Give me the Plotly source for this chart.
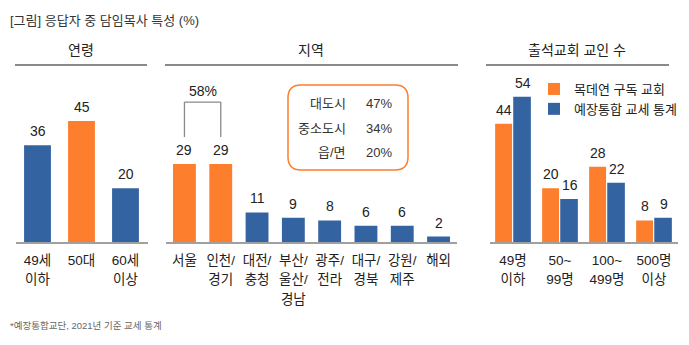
import plotly.graph_objects as go

W, H = 689, 345
ORANGE = "#FD7E2D"
BLUE = "#3463A2"
TXT = "#222222"
FONT = "Liberation Sans, Noto Sans CJK KR, sans-serif"

# ---- data ----
age_cats = ["49세<br>이하", "50대", "60세<br>이상"]
age_vals = [36, 45, 20]
age_hl = [False, True, False]

region_cats = ["서울", "인천/<br>경기", "대전/<br>충청", "부산/<br>울산/<br>경남",
               "광주/<br>전라", "대구/<br>경북", "강원/<br>제주", "해외"]
region_vals = [29, 29, 11, 9, 8, 6, 6, 2]
region_hl = [True, True, False, False, False, False, False, False]
region_combined = 58

city_labels = ["대도시", "중소도시", "읍/면"]
city_vals = [47, 34, 20]

size_cats = ["49명<br>이하", "50~<br>99명", "100~<br>499명", "500명<br>이상"]
size_mok = [44, 20, 28, 8]
size_pck = [54, 16, 22, 9]
series_names = ["목데연 구독 교회", "예장통합 교세 통계"]

title = "[그림] 응답자 중 담임목사 특성 (%)"
headers = ["연령", "지역", "출석교회 교인 수"]
footnote = "*예장통합교단, 2021년 기준 교세 통계"


def px(x):
    return x / W


def py(y):
    return 1 - y / H


def tick_text(cats):
    return ["<br>".join(f'<span style="font-size:13.5px">{ln}</span>' for ln in c.split("<br>"))
            for c in cats]


PXU = 2.69  # pixels per unit
base_y = 242
top_y = 62
ymax = (base_y - top_y) / PXU

fig = go.Figure()

fig.add_trace(go.Bar(x=age_cats, y=age_vals, width=0.61,
                     marker=dict(color=[ORANGE if h else BLUE for h in age_hl], line=dict(width=0)),
                     xaxis="x", yaxis="y", showlegend=False, hoverinfo="skip"))
fig.add_trace(go.Bar(x=region_cats, y=region_vals, width=0.63,
                     marker=dict(color=[ORANGE if h else BLUE for h in region_hl], line=dict(width=0)),
                     xaxis="x2", yaxis="y2", showlegend=False, hoverinfo="skip"))
fig.add_trace(go.Bar(x=size_cats, y=size_mok, width=0.36, offset=-0.38, name=series_names[0],
                     marker=dict(color=ORANGE, line=dict(width=0)),
                     xaxis="x3", yaxis="y3", hoverinfo="skip"))
fig.add_trace(go.Bar(x=size_cats, y=size_pck, width=0.375, offset=0.005, name=series_names[1],
                     marker=dict(color=BLUE, line=dict(width=0)),
                     xaxis="x3", yaxis="y3", hoverinfo="skip"))

annotations = []
vfont = dict(family=FONT, size=14, color=TXT)


def val_ann(xref, yref, x, v, xshift=0):
    annotations.append(dict(x=x, y=v, xref=xref, yref=yref, text=str(v), showarrow=False,
                            yanchor="bottom", yshift=4, xshift=xshift, font=vfont))


for c, v in zip(age_cats, age_vals):
    val_ann("x", "y", c, v)
for c, v in zip(region_cats, region_vals):
    val_ann("x2", "y2", c, v)
for c, v in zip(size_cats, size_mok):
    val_ann("x3", "y3", c, v, xshift=-9.5)
for c, v in zip(size_cats, size_pck):
    val_ann("x3", "y3", c, v, xshift=9.5)

# title / headers / footnote
annotations.append(dict(x=px(8), y=py(20), xref="paper", yref="paper", text=title, showarrow=False,
                        xanchor="left", yanchor="middle", font=dict(family=FONT, size=13, color="#333")))
for hx, htxt in zip([81, 311, 577], headers):
    annotations.append(dict(x=px(hx), y=py(50), xref="paper", yref="paper", text=htxt, showarrow=False,
                            xanchor="center", yanchor="middle", font=dict(family=FONT, size=14, color=TXT)))
annotations.append(dict(x=px(8), y=py(325), xref="paper", yref="paper", text=footnote, showarrow=False,
                        xanchor="left", yanchor="middle", font=dict(family=FONT, size=9.5, color="#666")))

# bracket label
br_low = 39
br_high = 52
annotations.append(dict(x=0.5, y=br_high, xref="x2", yref="y2", text=f"{region_combined}%", showarrow=False,
                        yanchor="bottom", yshift=1, font=vfont))

# city box text
for i, (lab, v) in enumerate(zip(city_labels, city_vals)):
    yy = 104 + i * 24
    annotations.append(dict(x=px(348), y=py(yy), xref="paper", yref="paper", text=lab, showarrow=False,
                            xanchor="right", yanchor="middle", font=dict(family=FONT, size=13, color="#333")))
    annotations.append(dict(x=px(364), y=py(yy), xref="paper", yref="paper", text=f"{v}%", showarrow=False,
                            xanchor="left", yanchor="middle", font=dict(family=FONT, size=13, color="#333")))

shapes = []
# header lines
for x0, x1 in [(15, 147), (165, 458), (486, 669)]:
    shapes.append(dict(type="line", xref="paper", yref="paper", x0=px(x0), x1=px(x1), y0=py(65), y1=py(65),
                       line=dict(color="#8a8a8a", width=2)))
# bracket
bl = dict(color="#8a8a8a", width=1.3)
shapes.append(dict(type="line", xref="x2", yref="y2", x0=0, x1=0, y0=br_low, y1=br_high, line=bl))
shapes.append(dict(type="line", xref="x2", yref="y2", x0=1, x1=1, y0=br_low, y1=br_high, line=bl))
shapes.append(dict(type="line", xref="x2", yref="y2", x0=0, x1=1, y0=br_high, y1=br_high, line=bl))

# rounded box
bx0, bx1, by0, by1, r = 288, 408, 85, 170, 13


def P(x, y):
    return f"{px(x)},{py(y)}"


path = (f"M {P(bx0 + r, by0)} L {P(bx1 - r, by0)} Q {P(bx1, by0)} {P(bx1, by0 + r)} "
        f"L {P(bx1, by1 - r)} Q {P(bx1, by1)} {P(bx1 - r, by1)} "
        f"L {P(bx0 + r, by1)} Q {P(bx0, by1)} {P(bx0, by1 - r)} "
        f"L {P(bx0, by0 + r)} Q {P(bx0, by0)} {P(bx0 + r, by0)} Z")
shapes.append(dict(type="path", xref="paper", yref="paper", path=path,
                   line=dict(color=ORANGE, width=1.5)))

ydom = [py(base_y), py(top_y)]
xcommon = dict(showline=True, linecolor="#a0a0a0", linewidth=1.5, showgrid=False, zeroline=False,
               ticks="", tickfont=dict(family=FONT, size=15, color=TXT), fixedrange=True,
               ticklabelstandoff=3, tickmode="array")
ycommon = dict(domain=ydom, range=[0, ymax], visible=False, fixedrange=True)

fig.update_layout(
    width=W, height=H, margin=dict(l=0, r=0, t=0, b=0),
    paper_bgcolor="white", plot_bgcolor="white",
    font=dict(family=FONT),
    barmode="overlay",
    xaxis=dict(domain=[px(15.5), px(147.5)], anchor="y", tickvals=age_cats,
               ticktext=tick_text(age_cats), **xcommon),
    xaxis2=dict(domain=[px(166.3), px(456.7)], anchor="y2", tickvals=region_cats,
                ticktext=tick_text(region_cats), **xcommon),
    xaxis3=dict(domain=[px(489.5), px(677.5)], anchor="y3", tickvals=size_cats,
                ticktext=tick_text(size_cats), **xcommon),
    yaxis=dict(anchor="x", **ycommon),
    yaxis2=dict(anchor="x2", **ycommon),
    yaxis3=dict(anchor="x3", **ycommon),
    legend=dict(x=px(534), y=py(74), xanchor="left", yanchor="top", bgcolor="rgba(0,0,0,0)",
                font=dict(family=FONT, size=13, color=TXT), tracegroupgap=0),
    annotations=annotations,
    shapes=shapes,
)

fig.write_html("out.html")
